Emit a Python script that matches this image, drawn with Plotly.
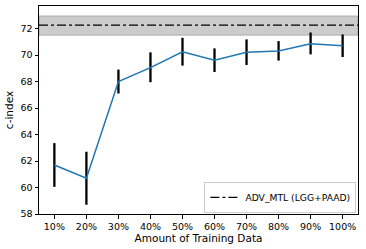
import plotly.graph_objects as go

categories = ["10%", "20%", "30%", "40%", "50%", "60%", "70%", "80%", "90%", "100%"]
cindex = [61.7, 60.7, 68.0, 69.05, 70.25, 69.6, 70.2, 70.3, 70.85, 70.7]
err_plus = [1.65, 2.0, 0.9, 1.15, 1.05, 0.9, 0.98, 0.75, 0.85, 0.85]
err_minus = [1.65, 2.0, 0.9, 1.1, 1.05, 0.88, 0.95, 0.72, 0.8, 0.85]

adv_mean = 72.25
adv_low = 71.5
adv_high = 72.95
adv_name = "ADV_MTL (LGG+PAAD)"

xpos = list(range(len(categories)))
xmin, xmax = -0.48, len(categories) - 1 + 0.48

fig = go.Figure()

fig.add_shape(type="rect", xref="paper", yref="y", x0=0, x1=1, y0=adv_low, y1=adv_high,
              fillcolor="rgba(128,128,128,0.4)", line=dict(color="rgba(128,128,128,0.5)", width=1),
              layer="below")

fig.add_trace(go.Scatter(x=[xmin, xmax], y=[adv_mean, adv_mean], mode="lines",
                         line=dict(color="black", width=1.3, dash="dashdot"),
                         name=adv_name, showlegend=True))

fig.add_trace(go.Scatter(x=xpos, y=cindex, mode="lines",
                         line=dict(color="#1f77b4", width=1.5),
                         error_y=dict(type="data", array=err_plus, arrayminus=err_minus,
                                      color="black", thickness=2.3, width=0),
                         showlegend=False))

fig.update_layout(
    width=366, height=249,
    margin=dict(l=39, r=8, t=6, b=35, autoexpand=False),
    paper_bgcolor="white", plot_bgcolor="white",
    font=dict(family="DejaVu Sans", size=9.5, color="black"),
    showlegend=True,
    legend=dict(x=0.995, y=0.005, xanchor="right", yanchor="bottom",
                bordercolor="#cccccc", borderwidth=1, bgcolor="white",
                font=dict(size=9.2), itemwidth=30, tracegroupgap=0),
)

fig.update_xaxes(range=[xmin, xmax], tickvals=xpos, ticktext=categories, automargin=False,
                 showline=True, linecolor="black", linewidth=1, mirror=True,
                 ticks="outside", ticklen=3.5, tickcolor="black", showgrid=False, zeroline=False,
                 title=dict(text="Amount of Training Data", font=dict(size=10.5), standoff=2))
fig.update_yaxes(range=[58, 73.7], tickvals=[58, 60, 62, 64, 66, 68, 70, 72], automargin=False,
                 showline=True, linecolor="black", linewidth=1, mirror=True,
                 ticks="outside", ticklen=3.5, tickcolor="black", showgrid=False, zeroline=False,
                 title=dict(text="c-index", font=dict(size=10.5), standoff=4))

fig.write_html("out.html", config={"displayModeBar": False},
               post_script="document.body.style.margin='0';document.body.style.overflow='hidden';")
